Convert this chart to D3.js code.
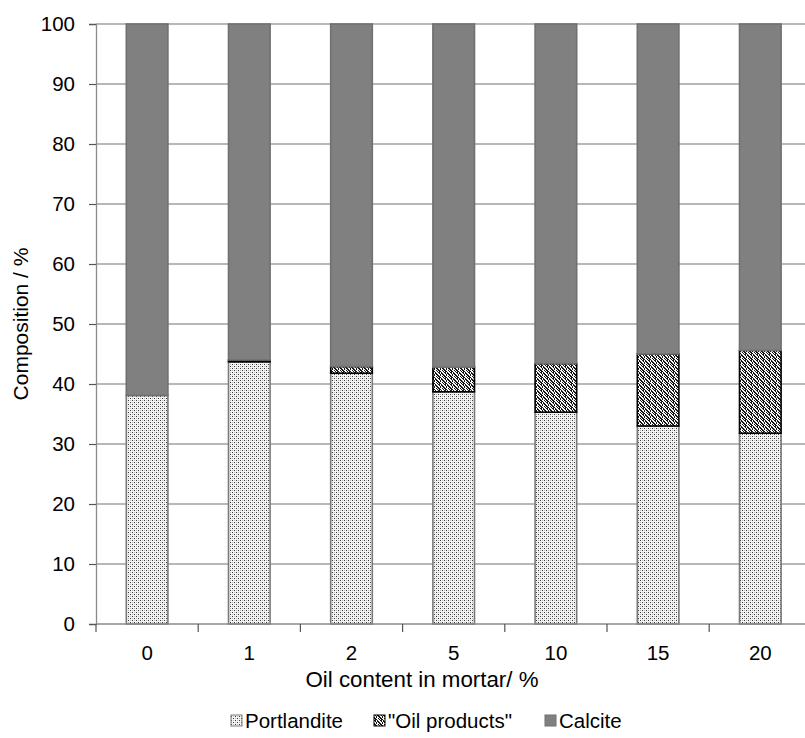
<!DOCTYPE html>
<html>
<head>
<meta charset="utf-8">
<script src="https://cdn.jsdelivr.net/npm/d3@7/dist/d3.min.js"></script>
<style>
  html, body { margin: 0; padding: 0; background: #fff; }
  svg { display: block; font-family: Arial, "Liberation Sans", sans-serif; }
</style>
</head>
<body>
<svg id="chart" width="805" height="738"></svg>
<script>
// Oil content of the mortar (%), one stacked bar each
const categories = ["0", "1", "2", "5", "10", "15", "20"];
// Phase composition (%) for each mortar
const portlandite = [38.1, 43.7, 41.8, 38.7, 35.3, 33.0, 31.8];
const oilProducts = [0.0, 0.3, 1.1, 4.1, 8.1, 12.0, 13.8];
const calcite = [61.9, 56.0, 57.1, 57.2, 56.6, 55.0, 54.4];
const yTicks = [0, 10, 20, 30, 40, 50, 60, 70, 80, 90, 100];
const seriesNames = ["Portlandite", "\"Oil products\"", "Calcite"];

const svg = d3.select("#chart");
const plotLeft = 96, plotTop = 24, plotBottom = 624, plotRight = 811.4;

// Fill patterns for the hatched phases
const defs = svg.append("defs");
const pDots = defs.append("pattern").attr("id", "pat-portlandite")
  .attr("patternUnits", "userSpaceOnUse").attr("width", 4).attr("height", 4);
pDots.append("rect").attr("width", 4).attr("height", 4).attr("fill", "#f4f4f4");
[[0, 0], [2, 2]].forEach(([px, py]) =>
  pDots.append("rect").attr("x", px).attr("y", py).attr("width", 1).attr("height", 1).attr("fill", "#3a3a3a"));
[[2, 0], [0, 2]].forEach(([px, py]) =>
  pDots.append("rect").attr("x", px).attr("y", py).attr("width", 1).attr("height", 1).attr("fill", "#b8b8b8"));

// Dense confetti texture for the oil products
const oilCells = [
  "XX.X..",
  ".X.XX.",
  "..X.XX",
  "X.X..X",
  "XX..X.",
  ".XX..X"
];
const pOil = defs.append("pattern").attr("id", "pat-oil")
  .attr("patternUnits", "userSpaceOnUse").attr("width", 6).attr("height", 6);
pOil.append("rect").attr("width", 6).attr("height", 6).attr("fill", "#f8f8f8");
oilCells.forEach((row, py) => row.split("").forEach((c, px) => {
  if (c === "X") pOil.append("rect").attr("x", px).attr("y", py).attr("width", 1).attr("height", 1).attr("fill", "#151515");
}));

const x = d3.scaleBand().domain(categories).range([plotLeft, plotRight])
  .paddingInner(0.593).paddingOuter(0.593 / 2);
const y = d3.scaleLinear().domain([0, 100]).range([plotBottom, plotTop]);

// Horizontal gridlines
svg.append("g").selectAll("line").data(yTicks.filter(t => t > 0)).join("line")
  .attr("x1", plotLeft).attr("x2", 805)
  .attr("y1", d => y(d)).attr("y2", d => y(d))
  .attr("stroke", "#a0a0a0").attr("stroke-width", 1.3);

// Stacked bars
const rows = categories.map((c, i) => ({ cat: c, Portlandite: portlandite[i], Oil: oilProducts[i], Calcite: calcite[i] }));
const keys = ["Portlandite", "Oil", "Calcite"];
const stack = d3.stack().keys(keys)(rows);
const fills = { Portlandite: "url(#pat-portlandite)", Oil: "url(#pat-oil)", Calcite: "#808080" };
const strokes = { Portlandite: "#7a7a7a", Oil: "#000000", Calcite: "#707070" };
const widths = { Portlandite: 1.6, Oil: 1.6, Calcite: 1.6 };

stack.forEach(layer => {
  svg.append("g").selectAll("rect").data(layer.filter(d => d[1] - d[0] > 0)).join("rect")
    .attr("x", d => x(d.data.cat))
    .attr("width", x.bandwidth())
    .attr("y", d => y(d[1]))
    .attr("height", d => y(d[0]) - y(d[1]))
    .attr("fill", fills[layer.key])
    .attr("stroke", strokes[layer.key])
    .attr("stroke-width", widths[layer.key]);
});

// Y axis
const yAxis = svg.append("g").attr("transform", `translate(${plotLeft},0)`)
  .call(d3.axisLeft(y).tickValues(yTicks).tickSize(7).tickPadding(14));
yAxis.select(".domain").attr("stroke", "#8a8a8a").attr("stroke-width", 1.3);
yAxis.selectAll(".tick line").attr("stroke", "#555").attr("stroke-width", 1.2);
yAxis.selectAll("text").attr("font-size", 20.5).attr("fill", "#000")
  .attr("font-family", "Arial, 'Liberation Sans', sans-serif");

// X axis with ticks on category boundaries
const xAxisG = svg.append("g");
xAxisG.append("line").attr("x1", plotLeft).attr("x2", 805).attr("y1", plotBottom).attr("y2", plotBottom)
  .attr("stroke", "#8a8a8a").attr("stroke-width", 1.3);
const bounds = d3.range(categories.length + 1).map(k => plotLeft + k * x.step());
xAxisG.selectAll(".xt").data(bounds).join("line").attr("class", "xt")
  .attr("x1", d => d).attr("x2", d => d).attr("y1", plotBottom).attr("y2", plotBottom + 8)
  .attr("stroke", "#555").attr("stroke-width", 1.2);
xAxisG.selectAll("text").data(categories).join("text")
  .attr("x", d => x(d) + x.bandwidth() / 2).attr("y", 660)
  .attr("text-anchor", "middle").attr("font-size", 20.5).text(d => d);

// Axis titles
svg.append("text").attr("x", 422).attr("y", 687).attr("text-anchor", "middle")
  .attr("font-size", 22.3).text("Oil content in mortar/ %");
svg.append("text").attr("transform", "translate(28,324) rotate(-90)")
  .attr("text-anchor", "middle").attr("font-size", 21).text("Composition / %");

// Legend
const legendX = [231, 374, 545];
const legendFills = ["url(#pat-portlandite)", "url(#pat-oil)", "#808080"];
const legendStrokes = ["#7a7a7a", "#000", "#707070"];
const lg = svg.append("g").selectAll("g").data(seriesNames).join("g")
  .attr("transform", (d, i) => `translate(${legendX[i]},0)`);
lg.append("rect").attr("x", 0).attr("y", 715).attr("width", 11).attr("height", 11)
  .attr("fill", (d, i) => legendFills[i]).attr("stroke", (d, i) => legendStrokes[i]).attr("stroke-width", 1);
lg.append("text").attr("x", 14).attr("y", 728).attr("font-size", 20.5).text(d => d);
</script>
</body>
</html>
